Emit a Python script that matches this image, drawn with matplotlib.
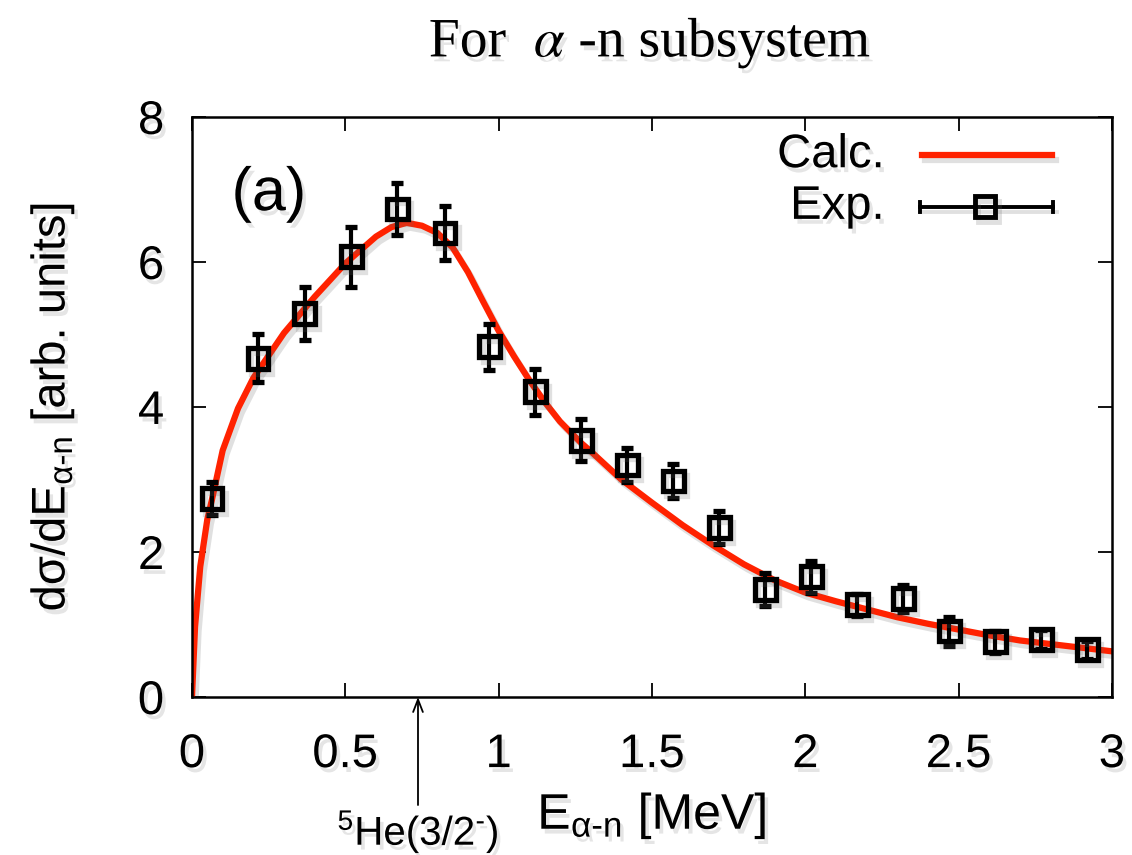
import matplotlib
matplotlib.use("Agg")
import matplotlib.pyplot as plt
import matplotlib.patheffects as pe
from matplotlib.lines import Line2D

# experimental points (alpha-n relative energy, MeV)
E_exp = [0.065, 0.215, 0.368, 0.52, 0.67, 0.825, 0.97, 1.12, 1.27, 1.42,
         1.57, 1.72, 1.87, 2.02, 2.17, 2.32, 2.47, 2.62, 2.77, 2.92]
sig_exp = [2.74, 4.67, 5.29, 6.07, 6.73, 6.40, 4.83, 4.21, 3.54, 3.20,
           2.98, 2.34, 1.48, 1.66, 1.27, 1.36, 0.91, 0.76, 0.79, 0.65]
err_exp = [0.23, 0.33, 0.37, 0.41, 0.36, 0.37, 0.32, 0.32, 0.29, 0.24,
           0.24, 0.23, 0.23, 0.22, 0.15, 0.19, 0.20, 0.15, 0.13, 0.12]

# calculated curve
E_calc = [0, 0.01, 0.027, 0.05, 0.065, 0.1, 0.15, 0.2, 0.3, 0.4, 0.5, 0.6,
          0.65, 0.7, 0.75, 0.8, 0.85, 0.9, 0.95, 1.0, 1.05, 1.1, 1.15, 1.2,
          1.27, 1.3, 1.4, 1.5, 1.6, 1.7, 1.8, 1.9, 2.0, 2.1, 2.2, 2.3, 2.4,
          2.5, 2.6, 2.7, 2.8, 2.9, 3.0]
sig_calc = [0, 0.97, 1.8, 2.45, 2.72, 3.4, 3.98, 4.4, 5.02, 5.52, 5.98, 6.35,
            6.48, 6.54, 6.5, 6.4, 6.2, 5.86, 5.45, 5.05, 4.7, 4.37, 4.07, 3.8,
            3.5, 3.39, 3.0, 2.68, 2.37, 2.09, 1.83, 1.61, 1.44, 1.32, 1.21, 1.1,
            1.01, 0.93, 0.85, 0.78, 0.73, 0.68, 0.63]

x_ticks = [0, 0.5, 1, 1.5, 2, 2.5, 3]
x_tick_labels = ["0", "0.5", "1", "1.5", "2", "2.5", "3"]
y_ticks = [0, 2, 4, 6, 8]
E_resonance = 0.737

RED = "#ff2200"
SANS = "Liberation Sans"

plt.rcParams["font.family"] = SANS
plt.rcParams["mathtext.fontset"] = "custom"
plt.rcParams["mathtext.rm"] = SANS
plt.rcParams["mathtext.it"] = SANS + ":italic"
plt.rcParams["mathtext.sf"] = SANS

line_shadow = [pe.SimpleLineShadow(offset=(2.5, -3.5), shadow_color="0.4", alpha=0.2),
               pe.Normal()]
text_shadow = [pe.withSimplePatchShadow(offset=(2.5, -3.5), shadow_rgbFace="0.4", alpha=0.17)]

fig = plt.figure(figsize=(11.32, 8.55), dpi=100)
ax = fig.add_axes([0.1696, 0.1848, 0.8127, 0.6784])

ax.plot(E_calc, sig_calc, color=RED, lw=4.5, solid_joinstyle="round",
        path_effects=line_shadow, zorder=2)
eb = ax.errorbar(E_exp, sig_exp, yerr=err_exp, fmt="s", ms=15, mfc="none",
                 mec="black", mew=3.8, ecolor="black", elinewidth=3,
                 capsize=4.5, capthick=3, zorder=3)
eb[0].set_path_effects(line_shadow)

ax.set_xlim(0, 3)
ax.set_ylim(0, 8)
ax.set_xticks(x_ticks)
ax.set_xticklabels(x_tick_labels)
ax.set_yticks(y_ticks)
ax.tick_params(direction="in", length=10, width=1.3, top=True, right=True,
               labelsize=34)
ax.tick_params(axis="x", pad=26)
ax.tick_params(axis="y", pad=20)
for sp in ax.spines.values():
    sp.set_linewidth(1.8)
for lab in ax.get_xticklabels() + ax.get_yticklabels():
    lab.set_path_effects(text_shadow)

ax.set_xlabel(r"E$_{\mathrm{α}\text{-n}}$ [MeV]", fontsize=36, labelpad=10,
              path_effects=text_shadow)
ax.set_ylabel(r"dσ/dE$_{\mathrm{α}\text{-n}}$ [arb. units]", fontsize=34,
              labelpad=44, path_effects=text_shadow)

ax.text(0.043, 0.866, "(a)", transform=ax.transAxes, fontsize=44,
        va="center", ha="left", path_effects=text_shadow)

# legend drawn gnuplot-style
ax.text(0.753, 0.934, "Calc.", transform=ax.transAxes, fontsize=34,
        ha="right", va="center", path_effects=text_shadow)
ax.add_line(Line2D([0.793, 0.935], [0.934, 0.934], transform=ax.transAxes,
                   color=RED, lw=4.5, path_effects=line_shadow))
ax.text(0.753, 0.845, "Exp.", transform=ax.transAxes, fontsize=34,
        ha="right", va="center", path_effects=text_shadow)
ax.add_line(Line2D([0.791, 0.936], [0.845, 0.845], transform=ax.transAxes,
                   color="black", lw=2.8, path_effects=line_shadow))
for xc in (0.791, 0.936):
    ax.add_line(Line2D([xc, xc], [0.836, 0.854], transform=ax.transAxes,
                       color="black", lw=2.8))
ax.add_line(Line2D([0.862], [0.845], transform=ax.transAxes, marker="s",
                   ms=15, mfc="none", mec="black", mew=3.5,
                   path_effects=line_shadow))

# resonance marker below the axis
ax.annotate("", xy=(E_resonance, 0), xytext=(E_resonance, -1.49),
            xycoords="data", textcoords="data", annotation_clip=False,
            arrowprops=dict(arrowstyle="->,head_length=0.9,head_width=0.35",
                            lw=1.3, color="black", shrinkA=0, shrinkB=0))
ax.text(E_resonance, -2.18, r"$^{5}$He(3/2$^{\text{-}}$)", fontsize=29,
        ha="center", va="bottom", clip_on=False, path_effects=text_shadow)

fig.text(0.574, 0.950, r"For  $\alpha$ -n subsystem", fontsize=40,
         family="Liberation Serif", math_fontfamily="stix", ha="center",
         va="center", path_effects=text_shadow)

fig.savefig("out.png", dpi=100)
